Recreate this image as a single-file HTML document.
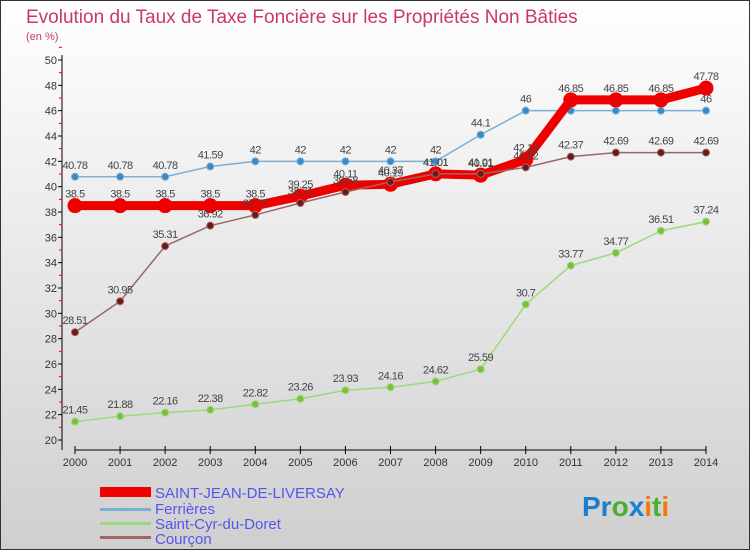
<!DOCTYPE html>
<html><head><meta charset="utf-8"><style>
body{margin:0;width:750px;height:550px;overflow:hidden;font-family:"Liberation Sans",sans-serif}
</style></head><body>
<svg id="chart" width="750" height="550" xmlns="http://www.w3.org/2000/svg">
<defs><linearGradient id="bg" x1="0" y1="0" x2="0" y2="1"><stop offset="0" stop-color="#ffffff"/><stop offset="1" stop-color="#cfcfcf"/></linearGradient></defs>
<rect x="0.5" y="0.5" width="749" height="549" fill="url(#bg)" stroke="#333"/>
<text x="26" y="23" font-size="19" fill="#c8386a">Evolution du Taux de Taxe Foncière sur les Propriétés Non Bâties</text>
<text x="26" y="40" font-size="11" fill="#c8386a">(en %)</text>
<g id="axes"></g><g id="series"></g>
<g font-size="15" fill="#5555ee">
<rect x="100" y="487" width="51" height="10" fill="#e00"/>
<text x="155" y="498">SAINT-JEAN-DE-LIVERSAY</text>
<rect x="100" y="508" width="51" height="3" fill="#7ab0d6"/>
<text x="155" y="514">Ferrières</text>
<rect x="100" y="522" width="51" height="3" fill="#9ada7a"/>
<text x="155" y="529">Saint-Cyr-du-Doret</text>
<rect x="100" y="536" width="51" height="3" fill="#a06565"/>
<text x="155" y="544">Courçon</text>
</g>
<text x="582" y="516" font-size="28" font-weight="bold"><tspan fill="#1a7fd0">Pr</tspan><tspan fill="#4ab030">o</tspan><tspan fill="#1a7fd0">x</tspan><tspan fill="#f07a10">i</tspan><tspan fill="#4ab030">t</tspan><tspan fill="#f07a10">i</tspan></text>
</svg>
<script>
const years=[2000,2001,2002,2003,2004,2005,2006,2007,2008,2009,2010,2011,2012,2013,2014];
const yTicks=[20,22,24,26,28,30,32,34,36,38,40,42,44,46,48,50];
const saintJean=[38.5,38.5,38.5,38.5,38.5,39.25,40.11,40.19,41.01,40.91,42.14,46.85,46.85,46.85,47.78];
const ferrieres=[40.78,40.78,40.78,41.59,42,42,42,42,42,44.1,46,46,46,46,46];
const saintCyr=[21.45,21.88,22.16,22.38,22.82,23.26,23.93,24.16,24.62,25.59,30.7,33.77,34.77,36.51,37.24];
const courcon=[28.51,30.95,35.31,36.92,37.77,38.71,39.58,40.37,41.01,41.01,41.52,42.37,42.69,42.69,42.69];
const NS="http://www.w3.org/2000/svg";
function X(i){return 75+i*(631/14);}
function Y(v){return 60+(50-v)*(380/30);}
function mk(p,t,a){const e=document.createElementNS(NS,t);for(const k in a)e.setAttribute(k,a[k]);p.appendChild(e);return e;}
const ax=document.getElementById('axes');
let l=mk(ax,'line',{x1:62,y1:55,x2:62,y2:450,stroke:'#000'});


l=mk(ax,'line',{x1:75,y1:450,x2:706,y2:450,stroke:'#000'});


yTicks.forEach(v=>{
 const t=mk(ax,'text',{x:57,y:Y(v)+4,'font-size':11,'text-anchor':'end',fill:'#333'});t.textContent=v;
 
 
 mk(ax,'line',{x1:58,y1:Y(v),x2:62,y2:Y(v),stroke:'#000'});
 mk(ax,'line',{x1:59,y1:Y(v+1),x2:62,y2:Y(v+1),stroke:'#e00'});
});
years.forEach((yr,i)=>{
 mk(ax,'line',{x1:X(i),y1:446,x2:X(i),y2:454,stroke:'#000'});
 const t=mk(ax,'text',{x:X(i),y:466,'font-size':11,'text-anchor':'middle',fill:'#333'});t.textContent=yr;
 
 
});
const sg=document.getElementById('series');
function draw(vals,name,color,w,r,dot){
 const g=mk(sg,'g',{});
 
 
 mk(g,'polyline',{points:vals.map((v,i)=>X(i)+','+Y(v)).join(' '),fill:'none',stroke:color,'stroke-width':w,'stroke-linejoin':'round'});
 vals.forEach((v,i)=>{
  const c=mk(g,'circle',{cx:X(i),cy:Y(v),r:r,fill:dot,stroke:color,'stroke-width':1});
  
  
  const t=mk(g,'text',{x:X(i),y:Y(v)-8,'font-size':11,'text-anchor':'middle',fill:'#444','letter-spacing':'-0.5'});t.textContent=v;
  
  
 });
}
draw(saintCyr,'saint-cyr-series','#9ada7a',1.5,3.5,'#7ac040');
draw(ferrieres,'ferrieres-series','#7ab0d6',1.5,3.5,'#3a8ac8');
draw(saintJean,'saint-jean-series','#ee0000',9,7,'#ee0000');
draw(courcon,'courcon-series','#a06565',1.5,3.5,'#6a1a1a');
</script>
</body></html>
